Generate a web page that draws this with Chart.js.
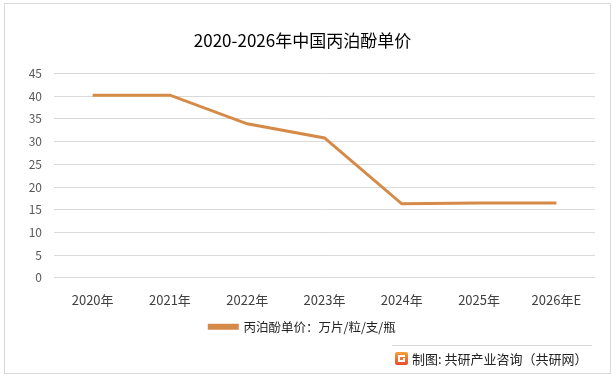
<!DOCTYPE html>
<html>
<head>
<meta charset="utf-8">
<script src="https://cdn.jsdelivr.net/npm/chart.js@4/dist/chart.umd.min.js"></script>
<style>
    html, body { margin: 0; padding: 0; background: #fff; }
    #wrap { width: 616px; height: 378px; }
</style>
</head>
<body>
<div id="wrap"><canvas id="chart" width="616" height="378"></canvas></div>
<script>
const years = ["2020年", "2021年", "2022年", "2023年", "2024年", "2025年", "2026年E"];
const prices = [40.2, 40.2, 33.9, 30.8, 16.3, 16.5, 16.5];
const seriesName = "丙泊酚单价：万片/粒/支/瓶";
const chartTitle = "2020-2026年中国丙泊酚单价";
const sourceText = "制图: 共研产业咨询（共研网）";

const FONT = "'Noto Sans CJK SC', 'Noto Sans', sans-serif";
const lineColor = "rgb(214,138,72)";

// frame, footer rule and source note
const framePlugin = {
    id: "frame",
    afterDraw(chart) {
        const ctx = chart.ctx;
        ctx.save();
        ctx.strokeStyle = "#d9d9d9";
        ctx.lineWidth = 1;
        ctx.strokeRect(4.5, 3.5, 606, 370);
        ctx.beginPath();
        ctx.moveTo(392, 345.5);
        ctx.lineTo(592, 345.5);
        ctx.stroke();

        // logo
        const g = ctx.createLinearGradient(0, 352, 0, 366);
        g.addColorStop(0, "#f7a13a");
        g.addColorStop(1, "#e8452c");
        ctx.fillStyle = g;
        ctx.beginPath();
        ctx.roundRect(395, 352, 13, 13, 2);
        ctx.fill();
        ctx.fillStyle = "#fff";
        ctx.fillRect(398, 355, 7, 2);
        ctx.fillRect(398, 355, 2, 7);
        ctx.fillRect(398, 360, 7, 2);
        ctx.fillRect(403, 358, 2, 4);

        ctx.fillStyle = "#222";
        ctx.font = "13px " + FONT;
        ctx.textBaseline = "middle";
        ctx.textAlign = "left";
        ctx.fillText(sourceText, 412, 359);
        ctx.restore();
    }
};

const cfg = {
    type: "line",
    data: {
        labels: years,
        datasets: [
            {
                label: seriesName,
                data: prices,
                borderColor: lineColor,
                backgroundColor: lineColor,
                borderWidth: 3,
                pointRadius: 0,
                tension: 0,
            },
        ],
    },
    options: {
        responsive: false,
        animation: false,
        layout: { padding: { left: 10, right: 21, top: 18, bottom: 35 } },
        plugins: {
            title: {
                display: true,
                text: chartTitle,
                color: "#000",
                font: { family: FONT, size: 17, weight: "normal" },
                padding: { top: 12, bottom: 23 },
            },
            legend: {
                position: "bottom",
                labels: {
                    color: "#222",
                    font: { family: FONT, size: 12.5 },
                    boxWidth: 28,
                    boxHeight: 3,
                    padding: 7,
                },
            },
            tooltip: { enabled: false },
        },
        scales: {
            x: {
                offset: true,
                grid: { display: false },
                border: { display: false },
                ticks: { color: "#404040", font: { family: FONT, size: 13 }, padding: 6, maxRotation: 0 },
            },
            y: {
                min: 0,
                max: 45,
                ticks: { stepSize: 5, color: "#595959", font: { family: FONT, size: 12 }, padding: 12 },
                grid: { color: "#d9d9d9", drawTicks: false },
                border: { display: false },
                afterFit(scale) { scale.width = 44; },
            },
        },
    },
    plugins: [framePlugin],
};

new Chart(document.getElementById("chart"), cfg);
</script>
</body>
</html>
